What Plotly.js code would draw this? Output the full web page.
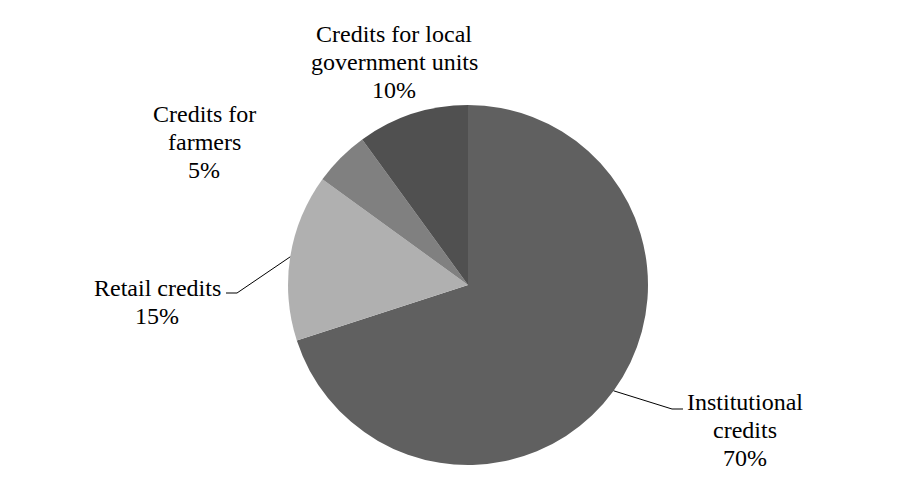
<!DOCTYPE html>
<html>
<head>
<meta charset="utf-8">
<script src="https://cdn.plot.ly/plotly-3.0.1.min.js"></script>
<style>html,body{margin:0;padding:0;background:#fff;}#chart{width:917px;height:482px;}</style>
</head>
<body>
<div id="chart"></div>
<script>
const categories = ["Institutional credits", "Retail credits", "Credits for farmers", "Credits for local government units"];
const labelLines = [["Institutional", "credits"], ["Retail credits"], ["Credits for", "farmers"], ["Credits for local", "government units"]];
const values = [70, 15, 5, 10];
const colors = ["#606060", "#b0b0b0", "#808080", "#505050"];

const W = 917, H = 482;
const cx = 468, cy = 285, R = 180;
const px = x => x / W;
const py = y => 1 - y / H;
const LINE = 28;

// label placement (pixels) and leader style
const labelPos = [
  {x: 745, y: 430, line: true, elbowX: 672, elbowY: 409, endX: 683},
  {x: 157, y: 302, line: true, elbowX: 237, elbowY: 293, endX: 226},
  {x: 204, y: 142, line: false},
  {x: 394, y: 62, line: false}
];

const total = values.reduce((a, b) => a + b, 0);
let cum = 0;
const annotations = [];
const shapes = [];
values.forEach((v, i) => {
  const mid = (cum + v / 2) / total * 2 * Math.PI;
  cum += v;
  const ex = cx + R * Math.sin(mid), ey = cy - R * Math.cos(mid);
  const lp = labelPos[i];
  const pct = Math.round(v / total * 100) + "%";
  const lines = labelLines[i].concat([pct]);
  const n = lines.length;
  lines.forEach((t, k) => {
    annotations.push({
      xref: "paper", yref: "paper", x: px(lp.x), y: py(lp.y + (k - (n - 1) / 2) * LINE),
      xanchor: "center", yanchor: "middle", showarrow: false,
      text: t, align: "center",
      font: {family: "Liberation Serif, Times New Roman, serif", size: 24, color: "#000"}
    });
  });
  if (lp.line) {
    shapes.push({
      type: "path", xref: "paper", yref: "paper",
      path: `M ${px(ex)} ${py(ey)} L ${px(lp.elbowX)} ${py(lp.elbowY)} L ${px(lp.endX)} ${py(lp.elbowY)}`,
      line: {color: "#000", width: 1}
    });
  }
});

const data = [{
  type: "pie",
  labels: categories,
  values: values,
  sort: false,
  direction: "clockwise",
  rotation: 0,
  textinfo: "none",
  hoverinfo: "label+percent",
  marker: {colors: colors, line: {color: "#ffffff", width: 0}},
  domain: {x: [px(cx - R), px(cx + R)], y: [py(cy + R), py(cy - R)]},
  showlegend: false
}];

const layout = {
  width: W, height: H,
  margin: {l: 0, r: 0, t: 0, b: 0},
  paper_bgcolor: "#fff",
  showlegend: false,
  annotations: annotations,
  shapes: shapes
};

Plotly.newPlot("chart", data, layout, {displayModeBar: false, staticPlot: true});
</script>
</body>
</html>
